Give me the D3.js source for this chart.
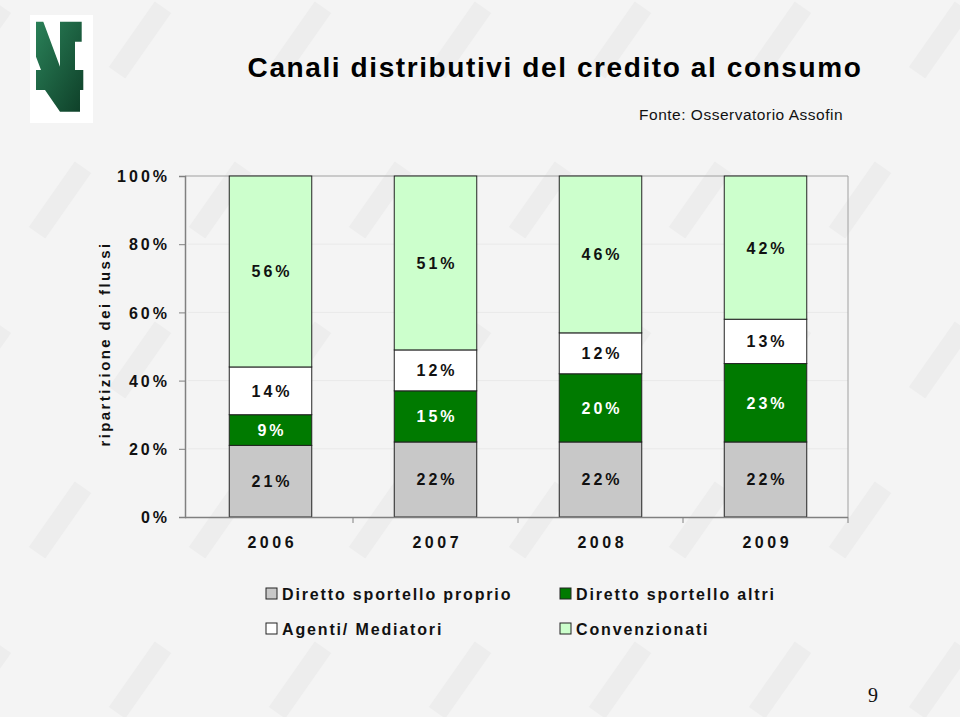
<!DOCTYPE html>
<html><head><meta charset="utf-8">
<script src="https://cdn.jsdelivr.net/npm/d3@7"></script>
<style>
body{margin:0;background:#f4f4f4;}
svg{display:block;font-family:"Liberation Sans",Arial,sans-serif;}
</style></head>
<body>
<svg id="chart" width="960" height="717"></svg>
<script>
const years = ["2006","2007","2008","2009"];
const seriesNames = ["Diretto sportello proprio","Diretto sportello altri","Agenti/ Mediatori","Convenzionati"];
const directProprio = [21,22,22,22];
const directAltri = [9,15,20,23];
const agenti = [14,12,12,13];
const convenzionati = [56,51,46,42];
const yTicks = [0,20,40,60,80,100];
const colors = ["#c8c8c8","#007a00","#ffffff","#ccffcc"];
const labelColors = ["#111","#fff","#111","#111"];

const svg = d3.select("#chart");
svg.append("rect").attr("width",960).attr("height",717).attr("fill","#f4f4f4");

// faint watermark-like pattern
const wm = svg.append("g").attr("fill","#ededed").attr("aria-hidden","true");
for(let r=0;r<5;r++){for(let c=0;c<7;c++){
  const x = c*160 + (r%2)*80 - 20, y = r*160 + 40;
  wm.append("rect").attr("x",-10).attr("y",-40).attr("width",20).attr("height",80)
    .attr("transform",`translate(${x},${y}) rotate(35)`);
}}

// logo
svg.append("rect").attr("x",30).attr("y",15).attr("width",63).attr("height",108).attr("fill","#ffffff");
const grad = svg.append("defs").append("linearGradient").attr("id","lg").attr("x1","0").attr("y1","0").attr("x2","1").attr("y2","1");
grad.append("stop").attr("offset","0%").attr("stop-color","#2a8058");
grad.append("stop").attr("offset","100%").attr("stop-color","#0e3f28");
const logoPts = [[36,21.7],[43.3,21.7],[60,66.7],[60,21.7],[81.7,21.7],[81.7,41.7],[75,41.7],[75,70],[83.3,70],[83.3,90],[80,90],[80,111.7],[60,111.7],[45,90],[36,90],[36,70],[41,70],[36,56.7]];
svg.append("path").attr("fill","url(#lg)").attr("d",d3.line()(logoPts)+"Z");

// title
svg.append("text").attr("x",555).attr("y",77).attr("text-anchor","middle")
  .attr("font-size",28).attr("font-weight","bold").attr("letter-spacing",1.6).attr("fill","#000")
  .text("Canali distributivi del credito al consumo");
svg.append("text").attr("x",843).attr("y",120).attr("text-anchor","end")
  .attr("font-size",15.5).attr("letter-spacing",0.5).attr("fill","#111").text("Fonte: Osservatorio Assofin");

// scales
const x = d3.scaleBand().domain(years).range([188,848]).paddingInner(0.5).paddingOuter(0.25);
const y = d3.scaleLinear().domain([0,100]).range([517,176]);

// plot frame + grid
const g = svg.append("g");
g.selectAll("line.grid").data(yTicks.slice(1,-1)).join("line").attr("class","grid")
  .attr("x1",188).attr("x2",848).attr("y1",d=>y(d)).attr("y2",d=>y(d)).attr("stroke","#e9e9e9");
g.append("line").attr("x1",185).attr("x2",848).attr("y1",y(100)).attr("y2",y(100)).attr("stroke","#a0a0a0");
g.append("line").attr("x1",848).attr("x2",848).attr("y1",y(100)).attr("y2",y(0)).attr("stroke","#a0a0a0");

// stacked data
const rows = years.map((yr,i)=>({year:yr,a:directProprio[i],b:directAltri[i],c:agenti[i],d:convenzionati[i]}));
const stack = d3.stack().keys(["a","b","c","d"])(rows);

const layers = g.selectAll("g.layer").data(stack).join("g").attr("class","layer");
layers.selectAll("rect").data((d,i)=>d.map(v=>({v,i}))).join("rect")
  .attr("x",d=>x(d.v.data.year)).attr("width",x.bandwidth())
  .attr("y",d=>y(d.v[1])).attr("height",d=>y(d.v[0])-y(d.v[1]))
  .attr("fill",d=>colors[d.i]).attr("stroke","#222").attr("stroke-width",1);
layers.selectAll("text").data((d,i)=>d.map(v=>({v,i}))).join("text")
  .attr("x",d=>x(d.v.data.year)+x.bandwidth()/2+1.5)
  .attr("y",d=>(y(d.v[0])+y(d.v[1]))/2+6)
  .attr("text-anchor","middle").attr("font-size",16).attr("font-weight","bold").attr("letter-spacing",3)
  .attr("fill",d=>labelColors[d.i])
  .text(d=>(d.v[1]-d.v[0])+"%");

// y axis
const yAxis = d3.axisLeft(y).tickValues(yTicks).tickFormat(d=>d+"%").tickSize(6);
const ya = svg.append("g").attr("transform","translate(185,0)").call(yAxis);
ya.select(".domain").attr("stroke","#808080").attr("stroke-width",1.5);
ya.selectAll(".tick line").attr("stroke","#808080");
ya.selectAll(".tick text").attr("font-size",16).attr("font-weight","bold").attr("letter-spacing",3)
  .attr("fill","#111").attr("x",-15).attr("dy","0.35em").attr("font-family","Liberation Sans, Arial, sans-serif");

// x axis
const xAxis = d3.axisBottom(x).tickSize(0).tickPadding(20);
const xa = svg.append("g").attr("transform","translate(0,517)").call(xAxis);
xa.select(".domain").attr("d","M185,0.5H848").attr("stroke","#808080").attr("stroke-width",1.5);
xa.selectAll(".tick text").attr("font-size",16).attr("font-weight","bold").attr("letter-spacing",3.5)
  .attr("fill","#111").attr("font-family","Liberation Sans, Arial, sans-serif").attr("dx","1.75");
const bounds = years.slice(1).map(yr=>x(yr)-x.step()*x.paddingInner()/2).concat([848]);
xa.selectAll("line.bt").data(bounds).join("line").attr("class","bt")
  .attr("x1",d=>d).attr("x2",d=>d).attr("y1",0).attr("y2",6).attr("stroke","#808080");

// y label
svg.append("text").attr("transform","translate(110,344) rotate(-90)").attr("text-anchor","middle")
  .attr("font-size",15).attr("font-weight","bold").attr("letter-spacing",2.4).attr("fill","#111")
  .text("ripartizione dei flussi");

// legend
const legPos = [[266,594],[560,594],[266,629],[560,629]];
const leg = svg.append("g").selectAll("g").data(seriesNames).join("g")
  .attr("transform",(d,i)=>`translate(${legPos[i][0]},${legPos[i][1]})`);
leg.append("rect").attr("x",0).attr("y",-6).attr("width",11).attr("height",11)
  .attr("fill",(d,i)=>colors[i]).attr("stroke","#222");
leg.append("text").attr("x",16).attr("y",6).attr("font-size",16).attr("font-weight","bold")
  .attr("letter-spacing",1.85).attr("fill","#111").text(d=>d);

// page number
svg.append("text").attr("x",873).attr("y",702).attr("text-anchor","middle")
  .attr("font-family","Liberation Serif, Times New Roman, serif").attr("font-size",20).attr("fill","#111").text("9");
</script>
</body></html>
